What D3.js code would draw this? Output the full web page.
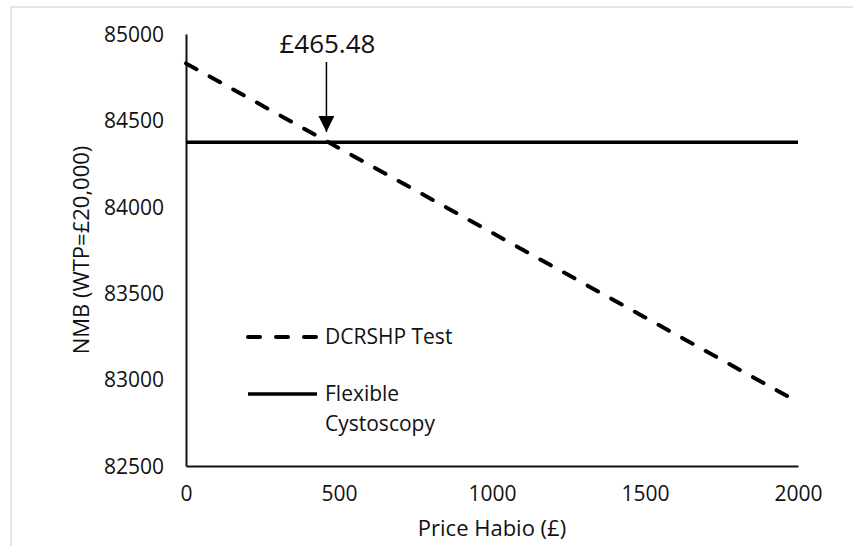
<!DOCTYPE html>
<html>
<head>
<meta charset="utf-8">
<script src="https://cdn.jsdelivr.net/npm/d3@7"></script>
<style>
  html, body { margin: 0; padding: 0; background: #fff; }
  svg { display: block; font-family: "Open Sans", sans-serif; }
</style>
</head>
<body>
<div id="chart"></div>
<script>
// data
const prices = [0, 500, 1000, 1500, 2000];
const dcrshpNmb = [84830, 84340, 83850, 83360, 82870];
const flexibleNmb = [84374, 84374, 84374, 84374, 84374];
const xTicks = [0, 500, 1000, 1500, 2000];
const yTicks = [82500, 83000, 83500, 84000, 84500, 85000];
const crossPrice = 465.48;
const crossLabel = '£465.48';

const width = 853, height = 546;
const margin = { left: 186, right: 55, top: 34, bottom: 80 };

const svg = d3.select('#chart')
    .append('svg')
    .attr('width', width)
    .attr('height', height);

// faint frame of the original figure
svg.append('rect')
    .attr('x', 11).attr('y', 7)
    .attr('width', 900).attr('height', 600)
    .attr('fill', 'none')
    .attr('stroke', '#e4e4e4')
    .attr('stroke-width', 2);

const x = d3.scaleLinear()
    .domain([0, 2000])
    .range([margin.left, width - margin.right]);
const y = d3.scaleLinear()
    .domain([82500, 85000])
    .range([height - margin.bottom, margin.top]);

// axes
const xAxis = svg.append('g')
    .attr('transform', `translate(0,${y(82500)})`)
    .call(d3.axisBottom(x).tickValues(xTicks).tickSize(0).tickPadding(20).tickFormat(d3.format('d')));
const yAxis = svg.append('g')
    .attr('transform', `translate(${x(0)},0)`)
    .call(d3.axisLeft(y).tickValues(yTicks).tickSize(0).tickPadding(22).tickFormat(d3.format('d')));

[xAxis, yAxis].forEach(g => {
    g.select('.domain').attr('stroke', '#111').attr('stroke-width', 2);
    g.selectAll('text')
        .attr('font-family', '"Open Sans", sans-serif')
        .attr('font-size', 21)
        .attr('fill', '#111');
});
xAxis.selectAll('text').attr('dy', '0.71em');
yAxis.selectAll('text').attr('dy', '0.35em');

// axis titles
svg.append('text')
    .attr('x', (x(0) + x(2000)) / 2)
    .attr('y', 536)
    .attr('text-anchor', 'middle')
    .attr('font-size', 22)
    .attr('fill', '#111')
    .text('Price Habio (£)');

svg.append('text')
    .attr('transform', `translate(89,${(y(82500) + y(85000)) / 2}) rotate(-90)`)
    .attr('text-anchor', 'middle')
    .attr('font-size', 22)
    .attr('fill', '#111')
    .text('NMB (WTP=£20,000)');

// lines
const line = d3.line()
    .x(d => x(d[0]))
    .y(d => y(d[1]));

svg.append('path')
    .datum(prices.map((p, i) => [p, flexibleNmb[i]]))
    .attr('d', line)
    .attr('fill', 'none')
    .attr('stroke', '#000')
    .attr('stroke-width', 3.5);

svg.append('path')
    .datum(prices.map((p, i) => [p, dcrshpNmb[i]]))
    .attr('d', line)
    .attr('fill', 'none')
    .attr('stroke', '#000')
    .attr('stroke-width', 4)
    .attr('stroke-linecap', 'round')
    .attr('stroke-dasharray', '12,15');

// annotation arrow
svg.append('defs').append('marker')
    .attr('id', 'arrow')
    .attr('viewBox', '0 0 10 10')
    .attr('refX', 10).attr('refY', 5)
    .attr('markerWidth', 16).attr('markerHeight', 16)
    .attr('markerUnits', 'userSpaceOnUse')
    .attr('orient', 'auto')
    .append('path')
    .attr('d', 'M0,0 L10,5 L0,10 Z')
    .attr('fill', '#000');

const ax = x(crossPrice) - 2;
svg.append('line')
    .attr('x1', ax).attr('x2', ax)
    .attr('y1', 62).attr('y2', 132)
    .attr('stroke', '#000')
    .attr('stroke-width', 1.5)
    .attr('marker-end', 'url(#arrow)');

svg.append('text')
    .attr('x', ax + 1)
    .attr('y', 53)
    .attr('text-anchor', 'middle')
    .attr('font-size', 26)
    .attr('fill', '#111')
    .text(crossLabel);

// legend
const legend = svg.append('g');
legend.append('line')
    .attr('x1', 248).attr('x2', 317)
    .attr('y1', 337).attr('y2', 337)
    .attr('stroke', '#000')
    .attr('stroke-width', 4)
    .attr('stroke-linecap', 'round')
    .attr('stroke-dasharray', '12,16');
legend.append('text')
    .attr('x', 325).attr('y', 337)
    .attr('dy', '0.35em')
    .attr('font-size', 21)
    .attr('fill', '#111')
    .text('DCRSHP Test');

legend.append('line')
    .attr('x1', 248).attr('x2', 317)
    .attr('y1', 394).attr('y2', 394)
    .attr('stroke', '#000')
    .attr('stroke-width', 3.5);
legend.append('text')
    .attr('x', 325).attr('y', 394)
    .attr('dy', '0.35em')
    .attr('font-size', 21)
    .attr('fill', '#111')
    .text('Flexible');
legend.append('text')
    .attr('x', 325).attr('y', 424)
    .attr('dy', '0.35em')
    .attr('font-size', 21)
    .attr('fill', '#111')
    .text('Cystoscopy');
</script>
</body>
</html>
